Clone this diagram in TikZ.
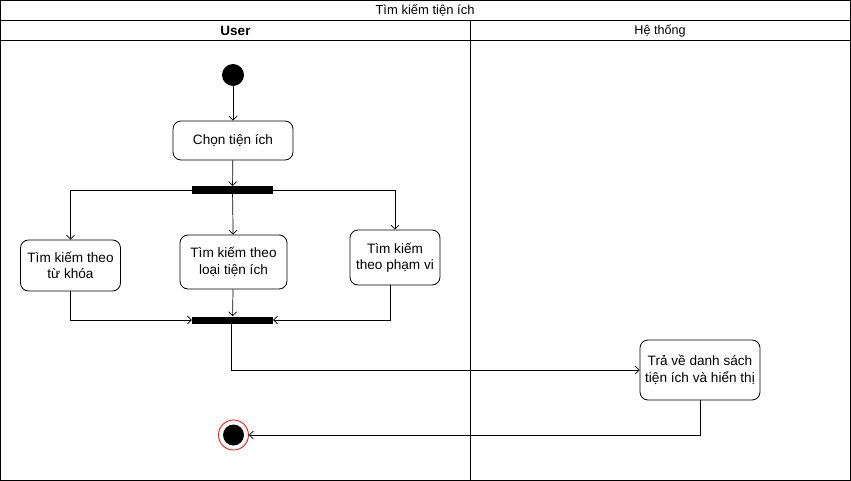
\documentclass[tikz,border=0pt]{standalone}
\usepackage{fontspec}
\setmainfont{Liberation Sans}
\usetikzlibrary{arrows.meta,positioning}
\begin{document}
\begin{tikzpicture}[x=1pt,y=-1pt,
  act/.style={draw,rounded corners=8pt,fill=white,align=center,font=\fontsize{13.6}{16.5}\selectfont,inner sep=0pt,line width=0.8pt},
  bar/.style={fill=black,inner sep=0pt},
  flow/.style={-{Straight Barb[length=4pt,width=8pt]},line width=0.7pt},
  lane/.style={line width=0.8pt}]
\useasboundingbox (0,0) rectangle (851,481);
% frame
\draw[lane] (0.5,0.5) rectangle (850.5,480.5);
\draw[lane] (0.5,20.5) -- (850.5,20.5);
\draw[lane] (0.5,40.5) -- (850.5,40.5);
\draw[lane] (470.5,20.5) -- (470.5,480.5);
\node[font=\fontsize{13}{14}\selectfont] (title) at (425,10.5) {Tìm kiếm tiện ích};
\node[font=\bfseries\fontsize{13.5}{14}\selectfont] (user) at (235.5,30.5) {User};
\node[font=\fontsize{12.6}{14}\selectfont] (sys) at (660,30.5) {Hệ thống};
% nodes
\node[circle,fill=black,minimum size=22pt,inner sep=0pt] (start) at (233,75) {};
\node[act,minimum width=120pt,minimum height=39pt] (chon) at (233,140.5) {Chọn tiện ích};
\node[bar,minimum width=81pt,minimum height=7.5pt] (fork) at (232.5,190) {};
\node[act,minimum width=100pt,minimum height=51pt] (kw) at (70.5,265.5) {Tìm kiếm theo\\từ khóa};
\node[act,minimum width=107pt,minimum height=54pt] (loai) at (233.5,262) {Tìm kiếm theo\\loại tiện ích};
\node[act,minimum width=90pt,minimum height=55pt] (pv) at (395,257.5) {Tìm kiếm\\theo phạm vi};
\node[bar,minimum width=81pt,minimum height=7pt] (join) at (232.5,320) {};
\node[act,minimum width=120pt,minimum height=60pt] (tra) at (700,370) {Trả về danh sách\\tiện ích và hiển thị};
\node[circle,draw=red,line width=0.8pt,fill=white,minimum size=30pt,inner sep=0pt] (end) at (233.5,435) {};
\node[circle,fill=black,minimum size=21pt,inner sep=0pt] (endin) at (233.5,435) {};
% connectors
\draw[flow] (start) -- (chon);
\draw[flow] (chon) -- (fork);
\draw[flow] (fork.west) -| (kw.north);
\draw[flow] (fork) -- (loai);
\draw[flow] (fork.east) -| (pv.north);
\draw[flow] (kw.south) |- (join.west);
\draw[flow] (loai) -- (join);
\coordinate (pvb) at ([xshift=-5pt]pv.south);
\draw[flow] (pvb) |- (join.east);
\coordinate (jb) at ([xshift=-1.5pt]join.south);
\draw[flow] (jb) |- (tra.west);
\draw[flow] (tra.south) |- (end.east);
\end{tikzpicture}
\end{document}
